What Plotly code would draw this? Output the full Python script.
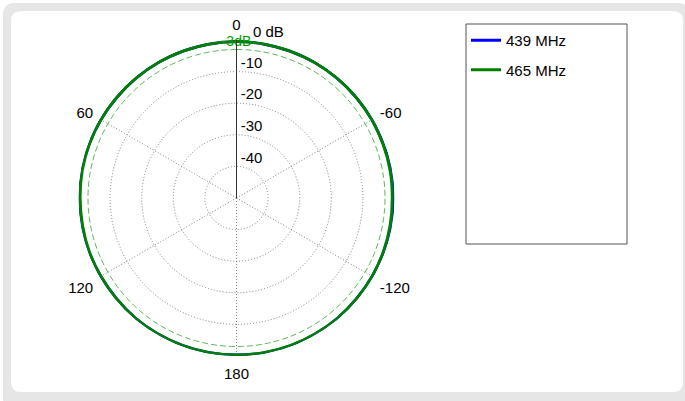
import plotly.graph_objects as go

# ---- data ----
angles_deg = [0, 10, 20, 30, 40, 50, 60, 70, 80, 90, 100, 110, 120, 130, 140, 150, 160, 170,
              180, 190, 200, 210, 220, 230, 240, 250, 260, 270, 280, 290, 300, 310, 320, 330, 340, 350]
gain_439 = [-0.5, -0.5, -0.5, -0.5, -0.5, -0.5, -0.4, -0.3, -0.1, 0.0, -0.1, -0.3, -0.4, -0.4, -0.3, -0.3, -0.3, -0.3,
            -0.3, -0.2, -0.15, -0.25, -0.3, -0.4, -0.4, -0.4, -0.2, 0.0, -0.2, -0.5, -0.5, -0.5, -0.5, -0.5, -0.5, -0.5]
gain_465 = [-0.5, -0.5, -0.5, -0.5, -0.5, -0.5, -0.4, -0.4, -0.4, -0.5, -0.5, -0.4, -0.4, -0.4, -0.3, -0.3, -0.3, -0.3,
            -0.3, -0.3, -0.3, -0.3, -0.3, -0.4, -0.4, -0.5, -0.6, -0.7, -0.6, -0.6, -0.5, -0.5, -0.5, -0.5, -0.5, -0.5]
series_names = ["439 MHz", "465 MHz"]
half_power_db = -3
half_power_label = "-3dB"
radial_ticks = [-40, -30, -20, -10]
radial_ticktext = ["-40", "-30", "-20", "-10"]
top_ticktext = "0 dB"
angular_ticks = [0, 60, 120, 180, 240, 300]
angular_ticktext = ["0", "60", "120", "180", "-120", "-60"]

W, H = 685, 401
FONT = "Liberation Sans, Arial, sans-serif"


def X(px):
    return px / W


def Y(py):
    return 1 - py / H


def rounded_path(x0, y0, x1, y1, r):
    return (f"M {X(x0 + r)},{Y(y0)} L {X(x1 - r)},{Y(y0)} Q {X(x1)},{Y(y0)} {X(x1)},{Y(y0 + r)} "
            f"L {X(x1)},{Y(y1 - r)} Q {X(x1)},{Y(y1)} {X(x1 - r)},{Y(y1)} "
            f"L {X(x0 + r)},{Y(y1)} Q {X(x0)},{Y(y1)} {X(x0)},{Y(y1 - r)} "
            f"L {X(x0)},{Y(y0 + r)} Q {X(x0)},{Y(y0)} {X(x0 + r)},{Y(y0)} Z")


cx, cy, R = 236.5, 198, 158
GRID = "#808080"

fig = go.Figure()

circle_theta = list(range(0, 361, 2))
fig.add_trace(go.Scatterpolar(
    r=[half_power_db] * len(circle_theta), theta=circle_theta, mode="lines",
    line=dict(color="#5cb85c", width=1, dash="6px,3px"), showlegend=False, hoverinfo="skip"))

fig.add_trace(go.Scatterpolar(
    r=gain_439 + gain_439[:1], theta=angles_deg + angles_deg[:1], mode="lines",
    line=dict(color="#0000ff", width=3, shape="spline"), name=series_names[0], legendgroup="a"))
fig.add_trace(go.Scatterpolar(
    r=gain_465 + gain_465[:1], theta=angles_deg + angles_deg[:1], mode="lines",
    line=dict(color="#008000", width=3, shape="spline"), name=series_names[1], legendgroup="b"))

# radial tick labels
fig.add_trace(go.Scatterpolar(
    r=radial_ticks, theta=[0] * len(radial_ticks), mode="text",
    text=["\u00a0" + t for t in radial_ticktext],
    textposition="top right", textfont=dict(color="black", size=15, family=FONT),
    showlegend=False, hoverinfo="skip"))
fig.add_trace(go.Scatterpolar(
    r=[0], theta=[-6], mode="text", text=[top_ticktext],
    textposition="top right", textfont=dict(color="black", size=15, family=FONT),
    showlegend=False, hoverinfo="skip"))

fig.add_trace(go.Scatterpolar(
    r=[half_power_db], theta=[0], mode="text", text=[half_power_label],
    textposition="top center", textfont=dict(color="#009900", size=14, family=FONT),
    showlegend=False, hoverinfo="skip"))

fig.update_layout(
    width=W, height=H,
    margin=dict(l=0, r=0, t=0, b=0),
    paper_bgcolor="white",
    font=dict(family=FONT, size=15, color="black"),
    polar=dict(
        domain=dict(x=[X(cx - R), X(cx + R)], y=[Y(cy + R), Y(cy - R)]),
        bgcolor="rgba(0,0,0,0)",
        radialaxis=dict(
            range=[-50, 0], angle=90,
            tickvals=radial_ticks + [0], showticklabels=False,
            showline=True, linecolor="#333333", linewidth=1,
            gridcolor=GRID, griddash="1px,2px", gridwidth=1,
            ticks=""),
        angularaxis=dict(
            rotation=90, direction="counterclockwise",
            tickvals=angular_ticks, ticktext=angular_ticktext,
            showline=False, gridcolor=GRID, griddash="1px,2px", gridwidth=1,
            ticks="outside", ticklen=4, tickcolor="rgba(0,0,0,0)",
            tickfont=dict(size=15, color="black")),
    ),
    legend=dict(
        x=X(466), y=Y(24), xanchor="left", yanchor="top",
        bgcolor="rgba(0,0,0,0)", borderwidth=0,
        font=dict(size=15, color="black"),
        tracegroupgap=7, traceorder="grouped"),
    shapes=[
        dict(type="path", xref="paper", yref="paper", path=rounded_path(3, 3, 690, 410, 12),
             fillcolor="#e6e6e6", line=dict(width=0), layer="below"),
        dict(type="path", xref="paper", yref="paper", path=rounded_path(11, 11, 683, 392, 10),
             fillcolor="white", line=dict(width=0), layer="below"),
        dict(type="rect", xref="paper", yref="paper", x0=X(466), x1=X(627), y0=Y(244), y1=Y(24),
             line=dict(color="#555555", width=1), fillcolor="rgba(0,0,0,0)", layer="above"),
    ],
)

fig.write_html("out.html", config={"displayModeBar": False},
               post_script="document.body.style.margin='0';")
